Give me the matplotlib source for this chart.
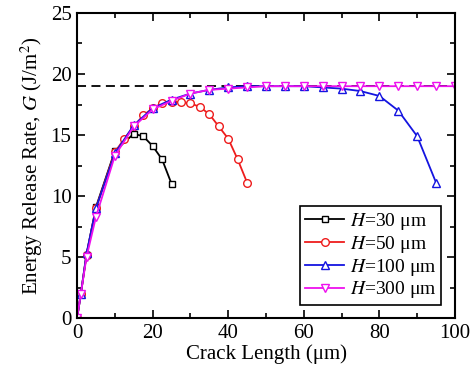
import numpy as np
import matplotlib
matplotlib.use('Agg')
import matplotlib.pyplot as plt

plt.rcParams['font.family'] = ['Liberation Serif', 'DejaVu Serif']
plt.rcParams['mathtext.fontset'] = 'stix'

# crack length (um) and G (J/m^2) for each film thickness H
x30 = [0, 1, 2.5, 5, 10, 15, 17.5, 20, 22.5, 25]
g30 = [0, 2.0, 5.2, 9.1, 13.7, 15.1, 14.9, 14.1, 13.0, 11.0]

x50 = [0, 1, 2.5, 5, 10, 12.5, 15, 17.5, 20, 22.5, 25, 27.5, 30, 32.5, 35, 37.5, 40, 42.5, 45]
g50 = [0, 2.0, 5.2, 9.0, 13.6, 14.7, 15.7, 16.6, 17.2, 17.6, 17.7, 17.7, 17.6, 17.3, 16.7,
       15.7, 14.7, 13.0, 11.1]

x100 = [0, 1, 2.5, 5, 10, 15, 20, 25, 30, 35, 40, 45, 50, 55, 60, 65, 70, 75, 80, 85, 90, 95]
g100 = [0, 2.0, 5.3, 9.0, 13.5, 15.8, 17.2, 17.9, 18.4, 18.7, 18.9, 19.0, 19.0, 19.0, 19.0,
        18.9, 18.8, 18.6, 18.2, 17.0, 14.9, 11.1]

x300 = [0, 1, 2.5, 5, 10, 15, 20, 25, 30, 35, 40, 45, 50, 55, 60, 65, 70, 75, 80, 85, 90, 95, 100]
g300 = [0, 2.0, 5.0, 8.3, 13.3, 15.7, 17.1, 17.8, 18.4, 18.7, 18.8, 18.9, 19.0, 19.0, 19.0,
        19.0, 19.0, 19.0, 19.0, 19.0, 19.0, 19.0, 19.0]

g_steady = 19.0

fig = plt.figure(figsize=(4.7, 3.81), dpi=100)
ax = fig.add_axes([0.164, 0.165, 0.804, 0.801])

ax.axhline(g_steady, color='black', ls=(0, (5, 3)), lw=1.3, zorder=1)

mk = dict(markersize=5.5, markerfacecolor='white', markeredgewidth=1.0, lw=1.3)
ax.plot(x30, g30, '-s', color='black', label=r'$H$=30 μm', markersize=5,
        markerfacecolor='white', markeredgewidth=1.0, lw=1.3)
ax.plot(x50, g50, '-o', color='#ee1c1c', label=r'$H$=50 μm', **mk)
ax.plot(x100, g100, '-^', color='#1414e0', label=r'$H$=100 μm', **mk)
ax.plot(x300, g300, '-v', color='#ee10ee', label=r'$H$=300 μm', **mk)

ax.set_xlim(0, 100)
ax.set_ylim(0, 25)
ax.set_xticks([0, 20, 40, 60, 80, 100])
ax.set_xticks(np.arange(0, 101, 10), minor=True)
ax.set_yticks([0, 5, 10, 15, 20, 25])
ax.set_yticks(np.arange(0, 25.1, 2.5), minor=True)
ax.tick_params(which='both', direction='in', top=True, right=True, labelsize=15, width=1.2)
ax.tick_params(which='major', length=6, pad=4)
ax.tick_params(which='minor', length=3.5)
for s in ax.spines.values():
    s.set_linewidth(1.5)

ax.set_xlabel('Crack Length (μm)', fontsize=15, labelpad=1)
ax.set_ylabel(r'Energy Release Rate, $G$ (J/m$^2$)', fontsize=15, labelpad=4)

leg = ax.legend(loc='lower right', fontsize=14, fancybox=False, edgecolor='black',
                framealpha=1, handlelength=2.0, borderpad=0.25, labelspacing=0.1,
                handletextpad=0.3, bbox_to_anchor=(0.99, 0.01))
leg.get_frame().set_linewidth(1.2)

fig.savefig('out.png', dpi=100)
